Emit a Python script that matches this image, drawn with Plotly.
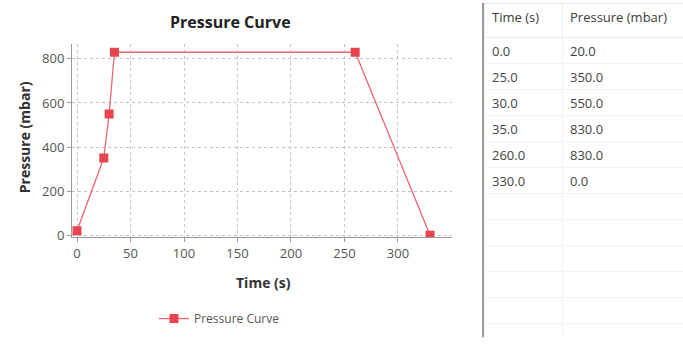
import plotly.graph_objects as go

# --- data ---
time_s = [0, 25, 30, 35, 260, 330]
pressure_mbar = [20, 350, 550, 830, 830, 0]
x_ticks = [0, 50, 100, 150, 200, 250, 300]
y_ticks = [0, 200, 400, 600, 800]
table_headers = ["Time (s)", "Pressure (mbar)"]
blank_rows = 6

W, H = 683, 353
FONT = "Open Sans"
RED = "#e8454f"

fig = go.Figure()

fig.add_trace(go.Scatter(
    x=time_s, y=pressure_mbar,
    mode="lines+markers",
    name="Pressure Curve",
    line=dict(color="#ec6670", width=1.3),
    marker=dict(symbol="square", size=9, color=RED),
    xaxis="x", yaxis="y",
))

# table on the right, padded with empty rows like the original widget
col_time = [f"{t:.1f}" for t in time_s] + [""] * blank_rows
col_press = [f"{p:.1f}" for p in pressure_mbar] + [""] * blank_rows
fig.add_trace(go.Table(
    domain=dict(x=[484 / W, 1.0], y=[1 - 344 / H, 1 - 4 / H]),
    columnwidth=[78, 121],
    header=dict(
        values=table_headers,
        align="left",
        height=34,
        fill_color="white",
        line_color="#ebebeb",
        font=dict(family=FONT, size=13, color="#3a3a3a"),
    ),
    cells=dict(
        values=[col_time, col_press],
        align="left",
        height=26,
        fill_color="white",
        line_color="#f3f3f3",
        font=dict(family=FONT, size=13, color="#444444"),
    ),
))

axis_common = dict(
    showline=True, linecolor="#9a9a9a", linewidth=1,
    showgrid=True, gridcolor="#c4c4c4", griddash="dot", gridwidth=1,
    ticks="outside", ticklen=4, tickcolor="#9a9a9a",
    tickfont=dict(family=FONT, size=13, color="#555555"),
    zeroline=False,
)

fig.update_layout(
    width=W, height=H,
    margin=dict(l=0, r=0, t=0, b=0),
    paper_bgcolor="white", plot_bgcolor="white",
    font=dict(family=FONT),
    xaxis=dict(domain=[72 / W, 452 / W], range=[-4.7, 350.5],
               tickvals=x_ticks, **axis_common),
    yaxis=dict(domain=[1 - 242 / H, 1 - 45 / H], range=[-9, 867],
               tickvals=y_ticks, **axis_common),
    showlegend=True,
    legend=dict(
        orientation="h", x=154 / W, y=1 - 325 / H,
        xanchor="left", yanchor="middle",
        font=dict(family=FONT, size=12, color="#555555"),
        bgcolor="rgba(0,0,0,0)",
    ),
    annotations=[
        dict(text="<b>Pressure Curve</b>", x=230 / W, y=1 - 22 / H,
             xref="paper", yref="paper", showarrow=False,
             xanchor="center", yanchor="middle",
             font=dict(family=FONT, size=16, color="#222222")),
        dict(text="<b>Time (s)</b>", x=263 / W, y=1 - 288 / H,
             xref="paper", yref="paper", showarrow=False,
             xanchor="center", yanchor="middle",
             font=dict(family=FONT, size=14, color="#333333")),
        dict(text="<b>Pressure (mbar)</b>", x=24 / W, y=1 - 140 / H,
             xref="paper", yref="paper", showarrow=False, textangle=-90,
             xanchor="center", yanchor="middle",
             font=dict(family=FONT, size=14, color="#333333")),
    ],
    shapes=[
        dict(type="line", xref="paper", yref="paper",
             x0=483 / W, x1=483 / W, y0=1 - 344 / H, y1=1 - 3 / H,
             line=dict(color="#9c9c9c", width=2)),
    ],
)

# the page body has a default 8px margin; drop it so the figure fills the window
fig.write_html("out.html", config={"displayModeBar": False},
               post_script="document.body.style.margin='0';")
